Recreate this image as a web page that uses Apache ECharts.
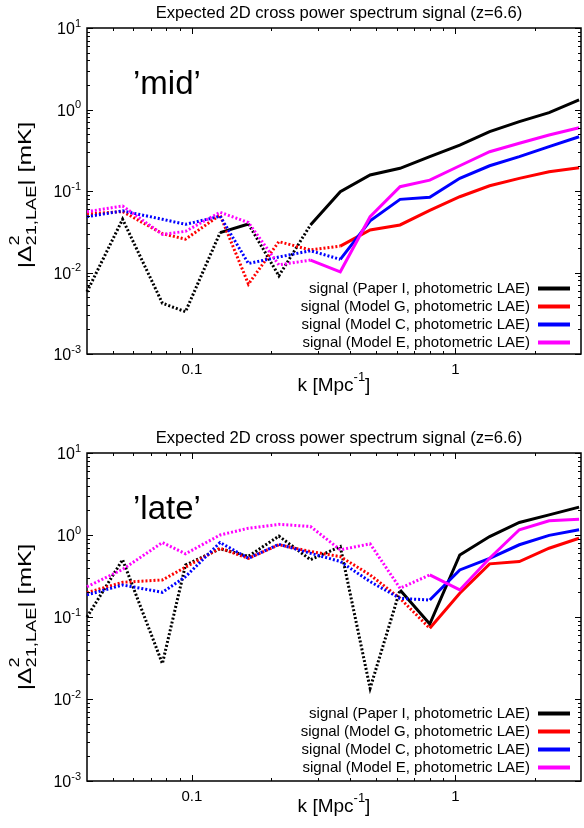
<!DOCTYPE html>
<html><head><meta charset="utf-8">
<script src="https://cdn.jsdelivr.net/npm/echarts@6/dist/echarts.min.js"></script>
<style>html,body{margin:0;padding:0;background:#fff}#c{width:584px;height:828px}</style>
</head><body><div id="c"></div>
<script>
// ---------------- data ----------------
const kBins = [0.04, 0.0546, 0.0773, 0.0946, 0.128, 0.164, 0.214, 0.282, 0.366, 0.475, 0.617, 0.80, 1.04, 1.35, 1.75, 2.27, 2.95];
const seriesNames = ['signal (Paper I, photometric LAE)', 'signal (Model G, photometric LAE)', 'signal (Model C, photometric LAE)', 'signal (Model E, photometric LAE)'];
const seriesColors = ['#000000', '#ff0000', '#0000ff', '#ff00ff'];

// 'mid' panel |Delta^2| values [mK]
const midPaper = [0.0058, 0.045, 0.0042, 0.0033, 0.0308, 0.0394, 0.0091, 0.0383, 0.098, 0.157, 0.19, 0.264, 0.366, 0.535, 0.71, 0.914, 1.31];
const midG     = [0.052, 0.056, 0.030, 0.0256, 0.0508, 0.0072, 0.0239, 0.0189, 0.0211, 0.0332, 0.0383, 0.058, 0.085, 0.116, 0.143, 0.172, 0.193];
const midC     = [0.0484, 0.057, 0.045, 0.039, 0.049, 0.0129, 0.0155, 0.0185, 0.0145, 0.043, 0.079, 0.084, 0.143, 0.204, 0.264, 0.35, 0.463];
const midE     = [0.0557, 0.0655, 0.0294, 0.032, 0.0548, 0.041, 0.0124, 0.0142, 0.0102, 0.0484, 0.113, 0.136, 0.204, 0.303, 0.385, 0.486, 0.598];
// sign of each segment between bins: 's' = positive (solid), 'd' = negative (dotted)
const midPaperSign = 'ddddsddsssssssss';
const midGSign     = 'ddddddddssssssss';
const midCSign     = 'ddddddddssssssss';
const midESign     = 'dddddddsssssssss';

// 'late' panel
const latePaper = [0.1, 0.5, 0.027, 0.43, 0.68, 0.55, 0.97, 0.5, 0.72, 0.0135, 0.214, 0.082, 0.57, 0.957, 1.42, 1.76, 2.19];
const lateG     = [0.198, 0.265, 0.283, 0.405, 0.69, 0.52, 0.76, 0.63, 0.545, 0.326, 0.169, 0.0728, 0.195, 0.445, 0.474, 0.69, 0.914];
const lateC     = [0.186, 0.246, 0.2, 0.31, 0.81, 0.52, 0.77, 0.6, 0.475, 0.27, 0.169, 0.161, 0.375, 0.52, 0.76, 0.99, 1.16];
const lateE     = [0.234, 0.38, 0.81, 0.59, 1.0, 1.21, 1.35, 1.27, 0.66, 0.78, 0.224, 0.326, 0.214, 0.52, 1.16, 1.49, 1.56];
const latePaperSign = 'ddddddddddssssss';
const lateGSign     = 'dddddddddddsssss';
const lateCSign     = 'dddddddddddsssss';
const lateESign     = 'dddddddddddsssss';

// axes
const xRange = [0.04, 3];
const yRange = [0.001, 10];
const xMajorTicks = [0.1, 1];
const xMinorTicks = [0.05, 0.06, 0.07, 0.08, 0.09, 0.2, 0.3, 0.4, 0.5, 0.6, 0.7, 0.8, 0.9, 2];
const yMajorTicks = [0.001, 0.01, 0.1, 1, 10];
const yMinorTicks = [];
[0.001, 0.01, 0.1, 1].forEach(d => { for (let m = 2; m <= 9; m++) yMinorTicks.push(+(d * m).toPrecision(3)); });

const panelLabels = ['\u2019mid\u2019', '\u2019late\u2019'];
const titleText = 'Expected 2D cross power spectrum signal (z=6.6)';

// ---------------- chart ----------------
const FONT = "'Liberation Sans', Arial, Helvetica, sans-serif";
const chart = echarts.init(document.getElementById('c'), null, { renderer: 'canvas' });

const grids = [
  { left: 87, top: 28, width: 495, height: 326, nameGap: 17 },
  { left: 87, top: 453, width: 495, height: 328, nameGap: 11 }
];

function buildSegments(xs, ys, signs, want) {
  const out = [];
  let last = -1;
  for (let i = 0; i < signs.length; i++) {
    if (signs[i] !== want) continue;
    if (last !== i) {
      if (out.length) out.push([xs[i], null]);
      out.push([xs[i], ys[i]]);
    }
    out.push([xs[i + 1], ys[i + 1]]);
    last = i + 1;
  }
  return out;
}

const panels = [
  { vals: [midPaper, midG, midC, midE], signs: [midPaperSign, midGSign, midCSign, midESign] },
  { vals: [latePaper, lateG, lateC, lateE], signs: [latePaperSign, lateGSign, lateCSign, lateESign] }
];

const series = [];
panels.forEach((p, gi) => {
  p.vals.forEach((ys, si) => {
    const color = seriesColors[si];
    ['s', 'd'].forEach(st => {
      series.push({
        type: 'line', name: seriesNames[si], xAxisIndex: gi, yAxisIndex: gi,
        data: buildSegments(kBins, ys, p.signs[si], st),
        symbol: 'none', showSymbol: false, connectNulls: false, silent: true,
        color: color, itemStyle: { color: color },
        lineStyle: { color: color, width: 3, type: st === 's' ? 'solid' : [2, 2], cap: 'butt', join: 'miter' },
        z: 3 + si, animation: false
      });
    });
  });
  // ticks (inside, mirrored on all four sides)
  const tickData = [];
  xMajorTicks.forEach(v => tickData.push([v, yRange[0], 0]));
  xMinorTicks.forEach(v => tickData.push([v, yRange[0], 1]));
  yMajorTicks.forEach(v => tickData.push([xRange[0], v, 2]));
  yMinorTicks.forEach(v => tickData.push([xRange[0], v, 3]));
  series.push({
    type: 'custom', xAxisIndex: gi, yAxisIndex: gi, silent: true, z: 10, animation: false,
    data: tickData,
    renderItem: function (params, api) {
      const x = api.value(0), y = api.value(1), kind = api.value(2);
      const len = (kind === 0 || kind === 2) ? 6 : 3;
      const st = { stroke: '#000', lineWidth: 1 };
      if (kind < 2) {
        const b = api.coord([x, yRange[0]]), t = api.coord([x, yRange[1]]);
        const xx = Math.round(b[0]) + 0.5;
        return { type: 'group', children: [
          { type: 'line', shape: { x1: xx, y1: b[1], x2: xx, y2: b[1] - len }, style: st },
          { type: 'line', shape: { x1: xx, y1: t[1], x2: xx, y2: t[1] + len }, style: st }
        ] };
      } else {
        const l = api.coord([xRange[0], y]), r = api.coord([xRange[1], y]);
        const yy = Math.round(l[1]) + 0.5;
        return { type: 'group', children: [
          { type: 'line', shape: { x1: l[0], y1: yy, x2: l[0] + len, y2: yy }, style: st },
          { type: 'line', shape: { x1: r[0], y1: yy, x2: r[0] - len, y2: yy }, style: st }
        ] };
      }
    }
  });
});

const xAxes = grids.map((g, i) => ({
  type: 'log', logBase: 10, gridIndex: i, min: xRange[0], max: xRange[1],
  axisLine: { show: false }, axisTick: { show: false }, splitLine: { show: false }, minorTick: { show: false },
  axisLabel: {
    margin: 8, fontSize: 15, color: '#000', fontFamily: FONT,
    formatter: v => (Math.abs(v - 0.1) < 1e-6 ? '0.1' : (Math.abs(v - 1) < 1e-6 ? '1' : ''))
  },
  name: '{a|k [Mpc}{s|-1}{a|]}', nameLocation: 'middle', nameGap: g.nameGap, nameMoveOverlap: false,
  nameTextStyle: { rich: {
    a: { fontSize: 19, fontFamily: FONT, color: '#000', lineHeight: 24, verticalAlign: 'bottom' },
    s: { fontSize: 13, fontFamily: FONT, color: '#000', lineHeight: 24, verticalAlign: 'top' }
  } }
}));

const yAxes = grids.map((g, i) => ({
  type: 'log', logBase: 10, gridIndex: i, min: yRange[0], max: yRange[1],
  axisLine: { show: false }, axisTick: { show: false }, splitLine: { show: false }, minorTick: { show: false },
  axisLabel: {
    margin: 6, color: '#000', fontFamily: FONT,
    formatter: v => '{m|10}{s|' + Math.round(Math.log10(v)) + '}',
    rich: {
      m: { fontSize: 16, fontFamily: FONT, color: '#000', lineHeight: 20, verticalAlign: 'bottom' },
      s: { fontSize: 11, fontFamily: FONT, color: '#000', lineHeight: 20, verticalAlign: 'top' }
    }
  }
}));

// y-axis title (stacked super/subscript) built as rotated text group
function measure(txt, size) {
  const c = document.createElement('canvas').getContext('2d');
  c.font = size + 'px ' + FONT;
  return c.measureText(txt).width;
}
function yTitle(cx, cy) {
  const big = 19, small = 14;
  const p1 = '|\u0394', p2 = '21,LAE', p3 = '| [mK]';
  const w1 = measure(p1, big), w2 = measure(p2, small), w3 = measure(p3, big);
  const total = w1 + w2 + w3;
  const x0 = -total / 2;
  const txt = (t, x, y, size) => ({ type: 'text', x: x, y: y, style: { text: t, font: size + 'px ' + FONT, fill: '#000', verticalAlign: 'bottom' } });
  return {
    type: 'group', x: cx, y: cy, rotation: Math.PI / 2, scaleX: 1.3, silent: true,
    children: [
      txt(p1, x0, 4, big),
      txt('2', x0 + w1, -9, small),
      txt(p2, x0 + w1, 8, small),
      txt(p3, x0 + w1 + w2, 4, big)
    ]
  };
}

const graphics = [
  yTitle(31, 195), yTitle(31, 617),
  { type: 'text', x: 133, y: 68, silent: true, style: { text: panelLabels[0], font: '33px ' + FONT, fill: '#000', verticalAlign: 'top' } },
  { type: 'text', x: 133, y: 493, silent: true, style: { text: panelLabels[1], font: '33px ' + FONT, fill: '#000', verticalAlign: 'top' } }
];

const legendCommon = {
  data: seriesNames, orient: 'vertical', right: 9, align: 'right', icon: 'rect',
  itemWidth: 32, itemHeight: 4, itemGap: 3, selectedMode: false,
  textStyle: { fontSize: 15, fontFamily: FONT, color: '#000', lineHeight: 15, padding: [0, 3, 0, 0] }
};

chart.setOption({
  backgroundColor: '#fff',
  animation: false,
  title: [
    { text: titleText, left: 334, top: 0, textAlign: 'center', textStyle: { fontSize: 16.6, fontWeight: 'normal', fontFamily: FONT, color: '#000' } },
    { text: titleText, left: 334, top: 425, textAlign: 'center', textStyle: { fontSize: 16.6, fontWeight: 'normal', fontFamily: FONT, color: '#000' } }
  ],
  grid: grids.map(g => ({ left: g.left, top: g.top, width: g.width, height: g.height, show: true, borderColor: '#000', borderWidth: 1.5, backgroundColor: 'transparent' })),
  xAxis: xAxes,
  yAxis: yAxes,
  legend: [
    Object.assign({ top: 276 }, legendCommon),
    Object.assign({ top: 701 }, legendCommon)
  ],
  graphic: graphics,
  series: series
});
</script>
</body></html>
